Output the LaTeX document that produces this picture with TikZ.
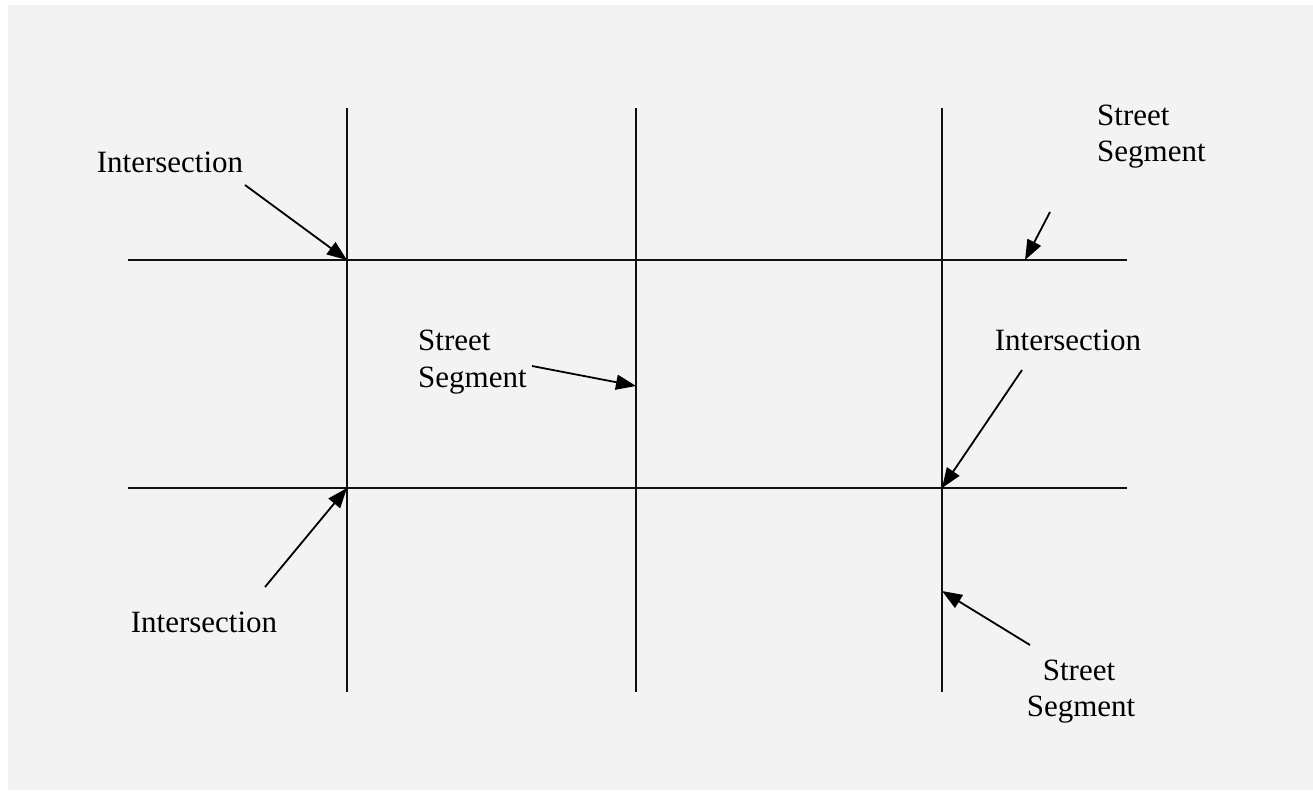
\documentclass[tikz,border=0pt]{standalone}
\usepackage{fontspec}
\setmainfont{Liberation Serif}
\usetikzlibrary{arrows.meta}
\definecolor{bg}{HTML}{F3F3F3}
\definecolor{ink}{HTML}{111111}
\begin{document}
\begin{tikzpicture}[x=1pt,y=-1pt,
  street/.style={draw=ink,line width=1.6pt},
  pointer/.style={draw=black,line width=1.8pt,-{Triangle[length=20pt,width=15pt]}},
  lbl/.style={inner sep=0pt,font=\fontsize{31}{36}\selectfont,text=black}]
\useasboundingbox (0,0) rectangle (1313,790);
\fill[white] (0,0) rectangle (1313,790);
\fill[bg] (8,5) rectangle (1313,790);
% streets
\coordinate (v1t) at (347,108); \coordinate (v1b) at (347,692);
\coordinate (v2t) at (636,108); \coordinate (v2b) at (636,692);
\coordinate (v3t) at (942,108); \coordinate (v3b) at (942,692);
\coordinate (h1l) at (128,260); \coordinate (h1r) at (1127,260);
\coordinate (h2l) at (128,488); \coordinate (h2r) at (1127,488);
\draw[street] (v1t) -- (v1b);
\draw[street] (v2t) -- (v2b);
\draw[street] (v3t) -- (v3b);
\draw[street] (h1l) -- (h1r);
\draw[street] (h2l) -- (h2r);
% labels
\node[lbl,anchor=base] (int1) at (170,172) {Intersection};
\node[lbl,anchor=base] (int2) at (1068,350) {Intersection};
\node[lbl,anchor=base] (int3) at (204,632) {Intersection};
\node[lbl,anchor=base west] (ssA1) at (1097,125) {Street};
\node[lbl,anchor=base west] (ssA2) at (1097,161) {Segment};
\node[lbl,anchor=base west] (ssB1) at (418,350) {Street};
\node[lbl,anchor=base west] (ssB2) at (418,387) {Segment};
\node[lbl,anchor=base] (ssC1) at (1079,680) {Street};
\node[lbl,anchor=base] (ssC2) at (1081,716) {Segment};
% arrow ends
\coordinate (a1s) at (245,185); \coordinate (a1e) at (347,260);
\coordinate (a2s) at (1050,212); \coordinate (a2e) at (1025,260);
\coordinate (a3s) at (532,366); \coordinate (a3e) at (636,386);
\coordinate (a4s) at (1022,370); \coordinate (a4e) at (942,488);
\coordinate (a5s) at (265,587); \coordinate (a5e) at (347,488);
\coordinate (a6s) at (1030,645); \coordinate (a6e) at (942,591);
\draw[pointer] (a1s) -- (a1e);
\draw[pointer] (a2s) -- (a2e);
\draw[pointer] (a3s) -- (a3e);
\draw[pointer] (a4s) -- (a4e);
\draw[pointer] (a5s) -- (a5e);
\draw[pointer] (a6s) -- (a6e);
\end{tikzpicture}
\end{document}
